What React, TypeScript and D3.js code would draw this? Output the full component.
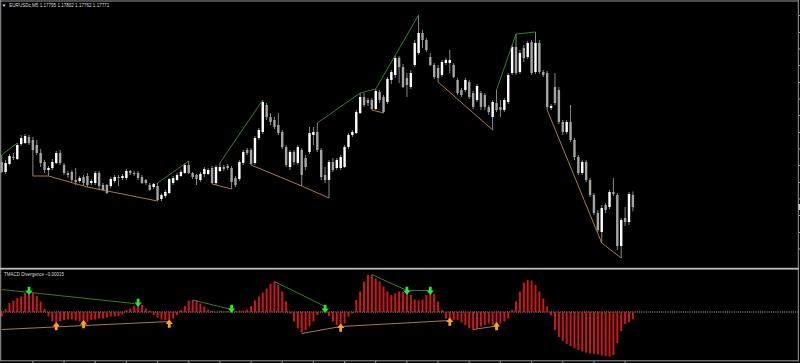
import React from 'react';
import * as d3 from 'd3';

const symbolName = 'EURUSDc,M5';
const indicatorName = 'TMACD Divergence';

const open = [
  1.17861, 1.17841, 1.17857, 1.17871, 1.17867, 1.17897, 1.17899, 1.17911, 1.17905, 1.17895,
  1.17879, 1.17861, 1.17845, 1.17849, 1.17859, 1.17879, 1.17855, 1.17839, 1.17841, 1.17825,
  1.17823, 1.17831, 1.17833, 1.17819, 1.17819, 1.17839, 1.17815, 1.17815, 1.17813, 1.17823,
  1.17831, 1.17829, 1.17829, 1.17843, 1.17839, 1.17839, 1.17831, 1.17825, 1.17815, 1.17811,
  1.17813, 1.17787, 1.17793, 1.17799, 1.17819, 1.17825, 1.17833, 1.17839, 1.17855, 1.17839,
  1.17835, 1.17825, 1.17837, 1.17837, 1.17849, 1.17819, 1.17843, 1.17851, 1.17853, 1.17849,
  1.17829, 1.17827, 1.17859, 1.17885, 1.17885, 1.17859, 1.17909, 1.17921, 1.17975, 1.17951,
  1.17945, 1.17935, 1.17921, 1.17891, 1.17851, 1.17881, 1.17859, 1.17885, 1.17869, 1.17881,
  1.17915, 1.17921, 1.17885, 1.17835, 1.17825, 1.17861, 1.17849, 1.17849, 1.17851, 1.17891,
  1.17915, 1.17919, 1.17959, 1.17991, 1.17985, 1.17985, 1.17967, 1.18001, 1.17991, 1.17981,
  1.18025, 1.18035, 1.18069, 1.18051, 1.18029, 1.18011, 1.18055, 1.18079, 1.18119, 1.18105,
  1.18071, 1.18055, 1.18049, 1.18035, 1.18059, 1.18059, 1.18055, 1.18025, 1.18005, 1.18005,
  1.18021, 1.17999, 1.17985, 1.17999, 1.17995, 1.17971, 1.17951, 1.17979, 1.17971, 1.17965,
  1.17981, 1.18039, 1.18091, 1.18041, 1.18089, 1.18071, 1.18101, 1.18041, 1.18099, 1.18041,
  1.18039, 1.17969, 1.18011, 1.18005, 1.17941, 1.17921, 1.17941, 1.17905, 1.17871, 1.17839,
  1.17861, 1.17825, 1.17795, 1.17759, 1.17721, 1.17775, 1.17771, 1.17801, 1.17795, 1.17693,
  1.17749, 1.17741, 1.17795,
];
const high = [
  1.17875, 1.17865, 1.17877, 1.17879, 1.17899, 1.17915, 1.17917, 1.17915, 1.17911, 1.17905,
  1.17887, 1.17865, 1.17853, 1.17867, 1.17883, 1.17885, 1.17859, 1.17843, 1.17845, 1.17849,
  1.17833, 1.17835, 1.17839, 1.17827, 1.17843, 1.17843, 1.17819, 1.17817, 1.17831, 1.17835,
  1.17835, 1.17837, 1.17847, 1.17845, 1.17843, 1.17843, 1.17835, 1.17827, 1.17819, 1.17819,
  1.17819, 1.17799, 1.17805, 1.17829, 1.17833, 1.17839, 1.17845, 1.17859, 1.17863, 1.17841,
  1.17837, 1.17841, 1.17851, 1.17849, 1.17853, 1.17855, 1.17859, 1.17855, 1.17857, 1.17853,
  1.17833, 1.17865, 1.17885, 1.17889, 1.17889, 1.17913, 1.17929, 1.17985, 1.17979, 1.17959,
  1.17951, 1.17959, 1.17925, 1.17895, 1.17885, 1.17885, 1.17895, 1.17889, 1.17875, 1.17931,
  1.17931, 1.17939, 1.17889, 1.17851, 1.17865, 1.17869, 1.17869, 1.17875, 1.17895, 1.17919,
  1.17925, 1.17965, 1.17999, 1.17999, 1.17989, 1.17989, 1.18007, 1.18005, 1.17995, 1.18031,
  1.18045, 1.18073, 1.18073, 1.18057, 1.18039, 1.18045, 1.18105, 1.18155, 1.18125, 1.18109,
  1.18079, 1.18059, 1.18055, 1.18065, 1.18069, 1.18085, 1.18059, 1.18029, 1.18009, 1.18029,
  1.18025, 1.18003, 1.18017, 1.18003, 1.17999, 1.17975, 1.17985, 1.18005, 1.17985, 1.17989,
  1.18039, 1.18095, 1.18117, 1.18085, 1.18095, 1.18103, 1.18105, 1.18121, 1.18105, 1.18045,
  1.18043, 1.17977, 1.18039, 1.18011, 1.17945, 1.17945, 1.17975, 1.17909, 1.17875, 1.17865,
  1.17865, 1.17829, 1.17799, 1.17765, 1.17775, 1.17779, 1.17805, 1.17829, 1.17799, 1.17749,
  1.17771, 1.17801, 1.17802,
];
const low = [
  1.17839, 1.17837, 1.17855, 1.17865, 1.17865, 1.17893, 1.17897, 1.17895, 1.17833, 1.17875,
  1.17851, 1.17839, 1.17833, 1.17845, 1.17857, 1.17855, 1.17835, 1.17829, 1.17821, 1.17815,
  1.17819, 1.17813, 1.17811, 1.17815, 1.17815, 1.17805, 1.17803, 1.17797, 1.17809, 1.17819,
  1.17813, 1.17825, 1.17825, 1.17835, 1.17833, 1.17825, 1.17817, 1.17815, 1.17803, 1.17807,
  1.17783, 1.17783, 1.17789, 1.17797, 1.17815, 1.17823, 1.17831, 1.17837, 1.17837, 1.17827,
  1.17815, 1.17821, 1.17831, 1.17835, 1.17817, 1.17815, 1.17841, 1.17843, 1.17845, 1.17807,
  1.17811, 1.17823, 1.17855, 1.17875, 1.17855, 1.17855, 1.17905, 1.17917, 1.17945, 1.17935,
  1.17927, 1.17915, 1.17887, 1.17851, 1.17845, 1.17855, 1.17855, 1.17813, 1.17845, 1.17877,
  1.17895, 1.17881, 1.17825, 1.17819, 1.17789, 1.17841, 1.17845, 1.17845, 1.17849, 1.17887,
  1.17911, 1.17917, 1.17957, 1.17971, 1.17973, 1.17965, 1.17965, 1.17979, 1.17959, 1.17977,
  1.18017, 1.18029, 1.18019, 1.18009, 1.17991, 1.18007, 1.18051, 1.18075, 1.18089, 1.18081,
  1.18053, 1.18027, 1.18021, 1.18031, 1.18055, 1.18039, 1.18029, 1.17995, 1.17991, 1.18001,
  1.17987, 1.17967, 1.17981, 1.17965, 1.17965, 1.17955, 1.17925, 1.17961, 1.17951, 1.17961,
  1.17977, 1.18035, 1.18035, 1.18037, 1.18061, 1.18067, 1.18035, 1.18037, 1.18037, 1.18031,
  1.17965, 1.17965, 1.17975, 1.17937, 1.17915, 1.17917, 1.17901, 1.17865, 1.17835, 1.17835,
  1.17821, 1.17791, 1.17755, 1.17721, 1.17699, 1.17759, 1.17767, 1.17793, 1.17685, 1.17669,
  1.17733, 1.17735, 1.17762,
];
const close = [
  1.17841, 1.17859, 1.17873, 1.17869, 1.17895, 1.17909, 1.17913, 1.17899, 1.17885, 1.17879,
  1.17859, 1.17845, 1.17849, 1.17861, 1.17879, 1.17859, 1.17839, 1.17835, 1.17825, 1.17821,
  1.17829, 1.17819, 1.17815, 1.17823, 1.17839, 1.17813, 1.17805, 1.17799, 1.17827, 1.17831,
  1.1783, 1.17833, 1.17843, 1.17839, 1.17837, 1.17829, 1.17819, 1.17819, 1.17805, 1.17817,
  1.17785, 1.17795, 1.17801, 1.17827, 1.17829, 1.17835, 1.17841, 1.17855, 1.17839, 1.17831,
  1.17827, 1.17837, 1.17847, 1.17845, 1.17819, 1.17851, 1.17851, 1.17847, 1.17849, 1.17821,
  1.17815, 1.17861, 1.17881, 1.17879, 1.17857, 1.17909, 1.17925, 1.17981, 1.17951, 1.17941,
  1.17931, 1.17919, 1.17891, 1.17855, 1.17881, 1.17861, 1.17891, 1.17835, 1.17851, 1.17919,
  1.17921, 1.17885, 1.17831, 1.17825, 1.17861, 1.17845, 1.17865, 1.17871, 1.17891, 1.17915,
  1.17921, 1.17961, 1.17991, 1.17975, 1.17979, 1.17967, 1.18003, 1.17985, 1.17961, 1.18027,
  1.18041, 1.18069, 1.18051, 1.18011, 1.18015, 1.18039, 1.18099, 1.18119, 1.18105, 1.18085,
  1.18055, 1.18031, 1.18029, 1.18061, 1.18065, 1.18065, 1.18031, 1.17999, 1.17995, 1.18025,
  1.17991, 1.17971, 1.18013, 1.17971, 1.17971, 1.17961, 1.17981, 1.17965, 1.17965, 1.17985,
  1.18035, 1.18091, 1.18039, 1.18079, 1.18069, 1.18099, 1.18039, 1.18099, 1.18041, 1.18035,
  1.17971, 1.17973, 1.17979, 1.17941, 1.17921, 1.17941, 1.17905, 1.17871, 1.17839, 1.17861,
  1.17825, 1.17795, 1.17759, 1.17725, 1.17769, 1.17765, 1.17801, 1.17797, 1.17693, 1.17745,
  1.17741, 1.17797, 1.17771,
];

const macd = [
  -0.00009, 0.00006, 0.00018, 0.00023, 0.00028, 0.00031, 0.00038, 0.00041, 0.00039, 0.00032,
  0.00021, 0.00006, -0.00009, -0.00019, -0.00021, -0.00019, -0.00016, -0.00015, -0.00015, -0.00017,
  -0.00019, -0.00021, -0.00019, -0.00016, -0.00015, -0.00013, -0.00013, -0.00011, -0.00009, -0.00009,
  -0.00008, -0.00005, 0.00004, 0.00007, 0.00012, 0.00016, 0.00014, 0.00007, 0.00003, -0.00006,
  -0.00011, -0.00015, -0.00016, -0.00017, -0.00013, -0.00006, 0.00004, 0.00012, 0.00023, 0.00024,
  0.00023, 0.00017, 0.00011, 0.00005, 0.00002, -0.00001, 0.00002, 0.00001, 0.00002, 0.00001,
  0.00002, 0.00003, 0.00003, 0.00005, 0.00012, 0.00023, 0.00031, 0.00039, 0.00047, 0.00056,
  0.00061, 0.00054, 0.00041, 0.00021, -0.00003, -0.00019, -0.00033, -0.00041, -0.00036, -0.00029,
  -0.00019, -0.00006, 0.00001, 0.00002, -0.00008, -0.00019, -0.00026, -0.00026, -0.00023, -0.00009,
  -0.00003, 0.00024, 0.00041, 0.00061, 0.00074, 0.00074, 0.00067, 0.00061, 0.00051, 0.00041,
  0.00034, 0.00037, 0.00041, 0.0004, 0.00037, 0.00034, 0.00025, 0.00023, 0.00025, 0.00034,
  0.00037, 0.00036, 0.00021, 0.00004, -0.00013, -0.00015, -0.00016, -0.00016, -0.00021, -0.00026,
  -0.00033, -0.00035, -0.00033, -0.00029, -0.00026, -0.00023, -0.00026, -0.00025, -0.00023, -0.00019,
  -0.00013, 0.00004, 0.00021, 0.00041, 0.00059, 0.00064, 0.00063, 0.00054, 0.00041, 0.00027,
  0.00011, -0.00006, -0.00036, -0.0005, -0.00058, -0.00064, -0.00068, -0.00072, -0.00076, -0.00079,
  -0.00081, -0.00083, -0.00084, -0.00085, -0.00087, -0.00088, -0.00089, -0.00086, -0.00062, -0.00038,
  -0.00024, -0.0002, -0.00015,
];

// divergence lines on price: bar indices joined through highs / lows
const priceHighLines = [[0, 4], [40, 48], [56, 67], [81, 92, 96, 107], [127, 132, 137]];
const priceLowLines = [[8, 12, 22, 40], [54, 59], [64, 77, 84], [95, 98], [112, 126], [140, 154, 159]];

// divergence lines on the oscillator: [bar, value]
const macdHighLines = [
  [[0, 0.00045], [34, 0.00017]],
  [[49, 0.00024], [59, 0.00005]],
  [[70, 0.00061], [83, 0.00011]],
  [[95, 0.00075], [104, 0.00043], [110, 0.00043]],
];
const macdLowLines = [
  [[0, -0.00035], [43, -0.00019]],
  [[77, -0.00043], [87, -0.00029], [115, -0.00017]],
  [[121, -0.00035], [127, -0.00028]],
];

// arrows: [bar, value]
const sellArrows = [[7, 0.00042], [35, 0.00018], [59, 0.00006], [83, 0.00006], [104, 0.00042], [110, 0.00042]];
const buyArrows = [[14, -0.00028], [21, -0.00024], [43, -0.00023], [87, -0.00031], [115, -0.00019], [127, -0.00028]];

const priceTicks = [
  1.18154, 1.1812, 1.18087, 1.18054, 1.1802, 1.17987, 1.17954, 1.1792,
  1.17887, 1.17854, 1.1782, 1.17787, 1.17754, 1.1772, 1.17687,
];
const timeTickStep = 8;

const W = 800;
const H = 363;

export default function App() {
  const n = open.length;
  const x = d3.scaleLinear().domain([0, n - 1]).range([1.7, 632.9]);
  const yP = d3.scaleLinear().domain([1.17651, 1.18185]).range([267, 0]);
  const yM = d3.scaleLinear().domain([-0.00098, 0.00084]).range([361, 270]);
  const line = d3.line<[number, number]>().x((d) => d[0]).y((d) => d[1]);
  const fmt = d3.format('.5f');
  const last = n - 1;

  const bodyW = 2.4;
  const timeTicks = d3.range(timeTickStep, n, timeTickStep);

  const arrowDown = 'M-1.4,-4.2 H1.4 V-0.4 H3.6 L0,4 L-3.6,-0.4 H-1.4 Z';
  const arrowUp = 'M-1.4,4.2 H1.4 V0.4 H3.6 L0,-4 L-3.6,0.4 H-1.4 Z';

  const title = `${symbolName}  ${fmt(open[last])} ${fmt(high[last])} ${fmt(low[last])} ${fmt(close[last])}`;
  const subTitle = `${indicatorName} ${fmt(macd[last])}`;

  const green = '#378a37';
  const tan = '#b98656';

  return (
    <svg width={W} height={H} style={{ position: 'absolute', left: 0, top: 0, display: 'block' }}>
      <rect x={0} y={0} width={W} height={H} fill="#000" />

      {/* candles */}
      <g>
        {open.map((o, i) => {
          const c = close[i];
          const bull = c >= o;
          const yt = yP(Math.max(o, c));
          const yb = yP(Math.min(o, c));
          return (
            <g key={i}>
              <line x1={x(i)} x2={x(i)} y1={yP(high[i])} y2={yP(low[i])} stroke="#969696" strokeWidth={0.9} />
              <rect
                x={x(i) - bodyW / 2}
                y={yt}
                width={bodyW}
                height={Math.max(0.9, yb - yt)}
                fill={bull ? '#ffffff' : '#a4a4a4'}
              />
            </g>
          );
        })}
      </g>

      {/* price divergence lines */}
      {priceHighLines.map((idx, k) => (
        <path key={'ph' + k} d={line(idx.map((i) => [x(i), yP(high[i])]) as [number, number][]) || ''} fill="none" stroke={green} strokeWidth={0.9} />
      ))}
      {priceLowLines.map((idx, k) => (
        <path key={'pl' + k} d={line(idx.map((i) => [x(i), yP(low[i])]) as [number, number][]) || ''} fill="none" stroke={tan} strokeWidth={0.9} />
      ))}

      {/* oscillator zero line */}
      <line x1={1} x2={798} y1={yM(0)} y2={yM(0)} stroke="#b8b8b8" strokeWidth={1} strokeDasharray="1,1.2" />

      {/* histogram */}
      {macd.map((v, i) => (
        <rect
          key={'m' + i}
          x={x(i) - 1}
          y={Math.min(yM(v), yM(0))}
          width={2}
          height={Math.abs(yM(v) - yM(0))}
          fill="#cc1818"
        />
      ))}

      {/* oscillator divergence lines */}
      {macdHighLines.map((pts, k) => (
        <path key={'mh' + k} d={line(pts.map((p) => [x(p[0]), yM(p[1])]) as [number, number][]) || ''} fill="none" stroke={green} strokeWidth={0.9} />
      ))}
      {macdLowLines.map((pts, k) => (
        <path key={'ml' + k} d={line(pts.map((p) => [x(p[0]), yM(p[1])]) as [number, number][]) || ''} fill="none" stroke={tan} strokeWidth={0.9} />
      ))}

      {/* arrows */}
      {sellArrows.map((a, k) => (
        <path key={'sa' + k} d={arrowDown} transform={`translate(${x(a[0])},${yM(a[1])})`} fill="#2ee62e" />
      ))}
      {buyArrows.map((a, k) => (
        <path key={'ba' + k} d={arrowUp} transform={`translate(${x(a[0])},${yM(a[1])})`} fill="#f7a623" />
      ))}

      {/* frames */}
      <line x1={0} x2={798.5} y1={1} y2={1} stroke="#9a9a9a" strokeWidth={1} />
      <line x1={0.7} x2={0.7} y1={0} y2={361} stroke="#9a9a9a" strokeWidth={1} />
      <line x1={798.3} x2={798.3} y1={0} y2={361.5} stroke="#9a9a9a" strokeWidth={1} />
      <rect x={0} y={267.8} width={799} height={1.8} fill="#bcbcbc" />
      <line x1={0} x2={798.5} y1={360.8} y2={360.8} stroke="#9a9a9a" strokeWidth={1} />

      {/* time ticks */}
      {timeTicks.map((i) => (
        <line key={'tt' + i} x1={x(i)} x2={x(i)} y1={361} y2={363} stroke="#9a9a9a" strokeWidth={1} />
      ))}
      {/* price ticks */}
      {priceTicks.map((p, k) => (
        <line key={'pt' + k} x1={798.3} x2={800} y1={yP(p)} y2={yP(p)} stroke="#9a9a9a" strokeWidth={1} />
      ))}
      <rect x={798.3} y={yP(close[last]) - 3} width={1.7} height={6} fill="#c8c8c8" />

      {/* titles */}
      <path d="M2.4,4.6 H5.6 L4,6.9 Z" fill="#e6e6e6" />
      <text x={9.3} y={7.4} fontFamily="'Liberation Sans', Arial, sans-serif" fontSize={4.9} fill="#dcdcdc" textLength={100} lengthAdjust="spacingAndGlyphs">
        {title}
      </text>
      <text x={4} y={276} fontFamily="'Liberation Sans', Arial, sans-serif" fontSize={4.9} fill="#dcdcdc" textLength={60} lengthAdjust="spacingAndGlyphs">
        {subTitle}
      </text>
    </svg>
  );
}
